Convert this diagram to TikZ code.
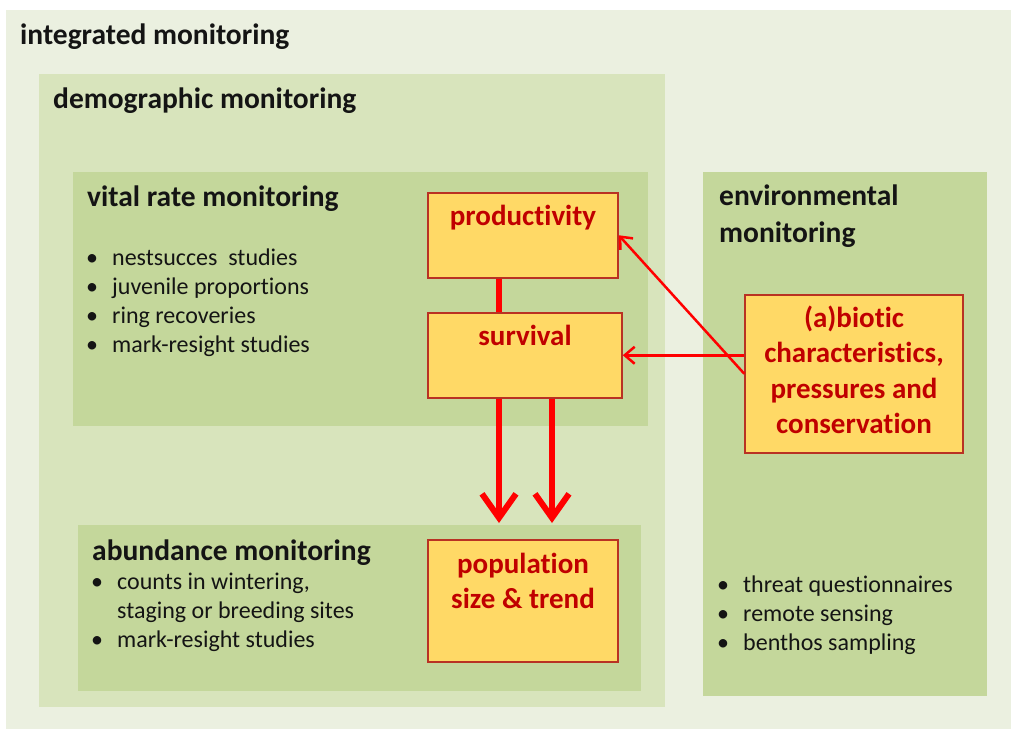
\documentclass[tikz,border=0pt]{standalone}
\usepackage{fontspec}
\setmainfont{Carlito}[Ligatures={NoCommon,NoContextual,NoRare}, RawFeature={-clig;-calt;-dlig}]
\usetikzlibrary{arrows.meta}

\definecolor{outerbg}{RGB}{235,240,224}
\definecolor{demobg}{RGB}{216,228,188}
\definecolor{vitalbg}{RGB}{196,215,155}
\definecolor{keyfill}{RGB}{255,217,102}
\definecolor{keyedge}{RGB}{185,50,35}
\definecolor{keytext}{RGB}{192,0,0}
\definecolor{linkred}{RGB}{255,0,0}
\definecolor{inktext}{RGB}{20,20,20}

\tikzset{
  title/.style={anchor=base west, inner sep=0pt, font=\fontsize{29.5}{37}\selectfont\bfseries, text=inktext, align=left},
  items/.style={anchor=base west, inner sep=0pt, font=\fontsize{24}{28.7}\selectfont, text=inktext, align=left},
  keybox/.style={draw=keyedge, fill=keyfill, line width=1.5pt, inner sep=0pt, text height=33pt, anchor=north, align=center, font=\fontsize{29}{35.5}\selectfont\bfseries, text=keytext},
  fatlink/.style={draw=linkred, line width=6pt},
  fatarrow/.style={fatlink, -{Straight Barb[length=24pt,width=34pt]}},
  thinarrow/.style={draw=linkred, line width=2.5pt, -{Straight Barb[length=10pt,width=17pt]}},
}
\newcommand{\itm}{\makebox[26pt][l]{\textbullet}}

\begin{document}
\begin{tikzpicture}[x=1pt,y=-1pt]
\useasboundingbox (0,0) rectangle (1011,729);

%background panels
\fill[outerbg] (6,10) rectangle (1011,729);
\fill[demobg] (39,74) rectangle (665,707);
\fill[vitalbg] (73,172) rectangle (648,426);
\fill[vitalbg] (78,525) rectangle (641,691);
\fill[vitalbg] (703,172) rectangle (987,696);

%panel titles (multi-line nodes sit on their last baseline)
\node[title] (integ) at (20,44) {integrated monitoring};
\node[title] (demo) at (53,108) {demographic monitoring};
\node[title] (vital) at (87,206) {vital rate monitoring};
\node[title] (abund) at (92,560) {abundance monitoring};
\node[title] (env) at (719,242) {environmental\\monitoring};

%bullet lists
\node[items] (vitalitems) at (86,352) {\itm nestsucces\ \ studies\\ \itm juvenile proportions\\ \itm ring recoveries\\ \itm mark-resight studies};
\node[items] (abunditems) at (91,647) {\itm counts in wintering,\\ \hspace*{26pt}staging or breeding sites\\ \itm mark-resight studies};
\node[items] (envitems) at (717,650) {\itm threat questionnaires\\ \itm remote sensing\\ \itm benthos sampling};

%key boxes
\node[keybox, minimum width=190pt, text depth=52pt] (prod) at (523,192) {productivity};
\node[keybox, minimum width=194pt, text depth=52pt] (surv) at (525,312) {survival};
\node[keybox, minimum width=190pt, text height=69pt, text depth=53pt] (pop) at (523,539) {population\\size \& trend};
\node[keybox, minimum width=218pt, text height=139pt, text depth=19pt] (abio) at (854,294) {(a)biotic\\characteristics,\\pressures and\\conservation};

%links
\coordinate (lane1) at (499,0);
\coordinate (lane2) at (552,0);
\draw[fatlink] (prod.south -| lane1) -- (surv.north -| lane1);
\draw[fatarrow, shorten >=16pt] (surv.south -| lane1) -- (pop.north -| lane1);
\draw[fatarrow, shorten >=16pt] (surv.south -| lane2) -- (pop.north -| lane2);
\draw[thinarrow] (abio.west |- surv.east) -- (surv.east);
\draw[thinarrow] (abio.west) -- (prod.east);

\end{tikzpicture}
\end{document}
